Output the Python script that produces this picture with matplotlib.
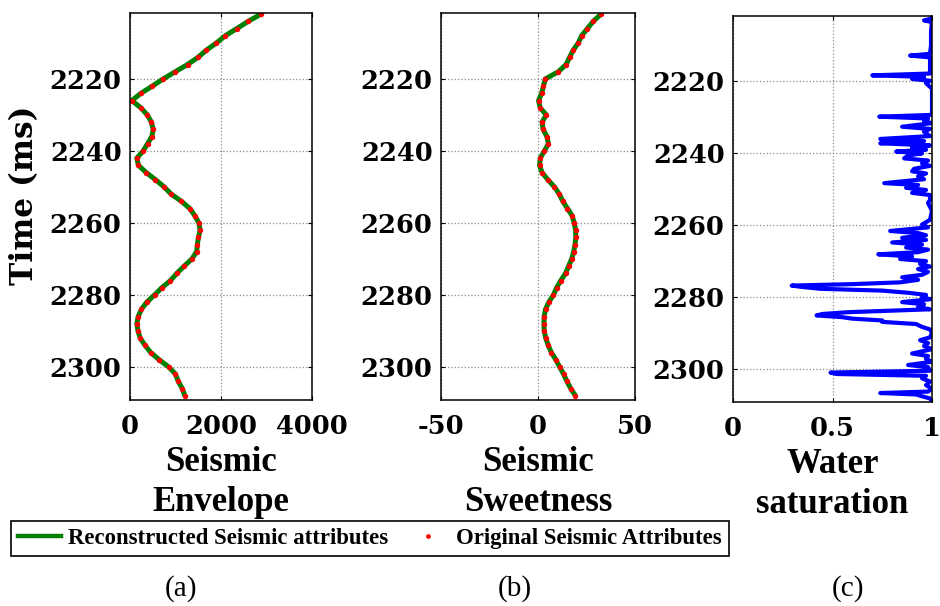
# -*- coding: utf-8 -*-
from matplotlib import pyplot as plt
from matplotlib.lines import Line2D
import numpy as np

plt.rcParams['axes.unicode_minus'] = False

GREEN = '#008000'
RED = '#ff0000'
BLUE = '#0000ff'
TICK_FONT = {'family': 'DejaVu Serif', 'weight': 'bold', 'size': 18.5}
LABEL_FONT = {'family': 'Liberation Serif', 'weight': 'bold', 'size': 25}

# two-way time of the seismic samples (2 ms sampling)
time_ms = np.arange(2202, 2310, 2)

envelope = [2880, 2600, 2350, 2095, 1900, 1680, 1495, 1265, 995, 730,
            490, 240, 40, 235, 380, 470, 510, 480, 385, 290,
            150, 185, 355, 560, 750, 905, 1130, 1315, 1425, 1515,
            1540, 1505, 1480, 1465, 1360, 1190, 1030, 890, 700, 540,
            370, 250, 180, 150, 175, 225, 330, 455, 640, 850,
            1000, 1060, 1150, 1205]

sweetness = [32.5, 28.5, 25.5, 22.5, 20.8, 18.2, 16.3, 14.5, 10.5, 3.8,
             2.8, 1.9, 0.3, 1.1, 4.3, 2.1, 2.6, 4.6, 5.4, 3.3,
             1.2, 0.8, 2.1, 5.1, 8.5, 11.0, 12.8, 15.2, 17.6, 18.7,
             19.4, 19.5, 19.1, 18.4, 17.4, 15.8, 14.2, 11.8, 9.6, 8.0,
             5.6, 3.9, 3.2, 3.1, 3.2, 4.0, 5.3, 6.9, 9.2, 11.2,
             13.2, 14.9, 16.9, 19.3]

# water saturation log (well sampling)
sw_time = [2201.5, 2202.5, 2203.0, 2203.5, 2206.0, 2210.0, 2212.3, 2212.8, 2213.3, 2216.0,
           2217.8, 2218.3, 2218.7, 2219.3, 2219.8, 2220.5, 2222.0, 2226.0, 2229.3, 2229.8,
           2230.3, 2231.0, 2231.6, 2232.6, 2233.2, 2234.0, 2235.2, 2236.0, 2236.6, 2237.2,
           2237.8, 2238.4, 2239.0, 2239.5, 2240.0, 2240.6, 2241.4, 2242.0, 2242.8, 2243.5,
           2244.3, 2245.0, 2245.6, 2246.4, 2247.2, 2248.3, 2248.8, 2249.6, 2250.2, 2251.0,
           2251.6, 2253.0, 2253.8, 2256.0, 2258.5, 2259.8, 2260.6, 2261.6, 2262.2, 2262.8,
           2263.5, 2264.1, 2264.8, 2265.4, 2266.2, 2266.8, 2267.5, 2268.1, 2268.7, 2269.4,
           2270.0, 2270.8, 2271.5, 2272.2, 2273.0, 2273.8, 2274.5, 2275.2, 2275.9, 2276.4,
           2276.8, 2277.2, 2277.7, 2278.2, 2278.8, 2279.4, 2280.0, 2280.6, 2281.4, 2282.0,
           2282.8, 2283.4, 2284.2, 2284.7, 2285.1, 2285.6, 2286.0, 2286.5, 2286.9, 2287.5,
           2288.3, 2289.0, 2290.0, 2291.2, 2292.0, 2292.8, 2293.6, 2294.5, 2295.7, 2296.4,
           2297.2, 2298.0, 2298.9, 2299.5, 2300.5, 2301.0, 2301.4, 2301.9, 2302.6, 2303.5,
           2304.5, 2305.5, 2306.3, 2306.7, 2307.1, 2307.6, 2308.2, 2309.0]
sw = [1.00, 1.00, 0.96, 1.00, 0.995, 0.995, 0.99, 0.89, 0.99, 0.99,
      0.99, 0.70, 0.96, 0.90, 0.99, 0.97, 1.00, 1.00, 1.00, 0.735,
      0.98, 0.96, 1.00, 0.85, 0.99, 0.96, 0.99, 0.74, 0.96, 0.74,
      0.99, 0.90, 0.97, 0.82, 0.95, 0.88, 0.86, 0.98, 0.95, 0.99,
      0.91, 0.90, 0.97, 0.93, 0.96, 0.76, 0.93, 0.87, 0.97, 0.90,
      0.99, 0.99, 0.98, 1.00, 0.99, 0.95, 0.98, 0.79, 0.93, 0.97,
      0.85, 0.97, 0.80, 0.95, 0.87, 0.98, 0.93, 0.73, 0.90, 0.84,
      0.97, 0.94, 0.99, 0.93, 0.98, 0.95, 0.85, 0.93, 0.84, 0.60,
      0.295, 0.35, 0.44, 0.75, 0.88, 0.97, 0.95, 0.99, 0.85, 0.96,
      0.93, 0.99, 0.58, 0.45, 0.42, 0.55, 0.60, 0.75, 0.75, 0.92,
      0.95, 0.99, 1.00, 0.99, 0.94, 0.98, 0.96, 1.00, 0.90, 0.98,
      0.97, 1.00, 0.88, 0.98, 0.99, 0.49, 0.52, 0.97, 0.95, 0.99,
      0.97, 1.00, 0.98, 0.74, 0.92, 0.95, 0.99, 1.00]

time_ticks = [2220, 2240, 2260, 2280, 2300]
time_lim = (2309.2, 2201.7)


def style_track(ax, xticks, xticklabels, xlabel):
    ax.set_ylim(*time_lim)
    ax.set_xlim(xticks[0], xticks[-1])
    ax.set_yticks(time_ticks)
    ax.set_xticks(xticks)
    ax.set_xticklabels(xticklabels, fontdict=TICK_FONT)
    ax.set_yticklabels([str(t) for t in time_ticks], fontdict=TICK_FONT)
    ax.tick_params(direction='in', top=True, right=True, length=3, width=0.8)
    ax.tick_params(axis='x', pad=10)
    ax.tick_params(axis='y', pad=6)
    ax.grid(True, color='0.55', linestyle=':', linewidth=0.9)
    ax.set_axisbelow(True)
    for sp in ax.spines.values():
        sp.set_linewidth(1.1)
    ax.set_xlabel(xlabel, fontdict=LABEL_FONT, linespacing=1.3, labelpad=5)


fig = plt.figure(figsize=(9.4, 6.06), dpi=100)
ax_env = fig.add_axes([0.1383, 0.3399, 0.1936, 0.6386])
ax_swt = fig.add_axes([0.4691, 0.3399, 0.2064, 0.6386])
ax_sw = fig.add_axes([0.7798, 0.3366, 0.2117, 0.6375])

for ax, values in ((ax_env, envelope), (ax_swt, sweetness)):
    ax.plot(values, time_ms, color=GREEN, linewidth=3.6, solid_capstyle='round',
            solid_joinstyle='round')
    ax.plot(values, time_ms, linestyle='none', marker='o', markersize=3.9,
            markeredgewidth=0, color=RED)

ax_sw.plot(sw, sw_time, color=BLUE, linewidth=3.0)

style_track(ax_env, [0, 2000, 4000], ['0', '2000', '4000'], 'Seismic\nEnvelope')
style_track(ax_swt, [-50, 0, 50], ['-50', '0', '50'], 'Seismic\nSweetness')
style_track(ax_sw, [0, 0.5, 1], ['0', '0.5', '1'], 'Water\nsaturation')

ax_env.set_ylabel('Time (ms)', family='DejaVu Serif', weight='bold', size=22.5)
ax_env.yaxis.set_label_coords(-0.495, 0.53)

handles = [Line2D([], [], color=GREEN, linewidth=3.2),
           Line2D([], [], color=RED, linestyle='none', marker='o', markersize=3.4,
                  markeredgewidth=0)]
leg = fig.legend(handles, ['Reconstructed Seismic attributes', 'Original Seismic Attributes'],
                 loc='upper left', bbox_to_anchor=(11 / 940, 1 - 521 / 606), ncol=2,
                 prop={'family': 'Liberation Serif', 'weight': 'bold', 'size': 16.4},
                 frameon=True, fancybox=False, edgecolor='black', framealpha=1,
                 handlelength=1.9, handletextpad=0.3, columnspacing=0.8,
                 borderpad=0.3, borderaxespad=0)
leg.get_frame().set_linewidth(1.2)

for x, tag in ((181, '(a)'), (515, '(b)'), (848, '(c)')):
    fig.text(x / 940, 1 - 589 / 606, tag, ha='center', va='center',
             family='Liberation Serif', size=21)

fig.savefig('out.png', dpi=100)
